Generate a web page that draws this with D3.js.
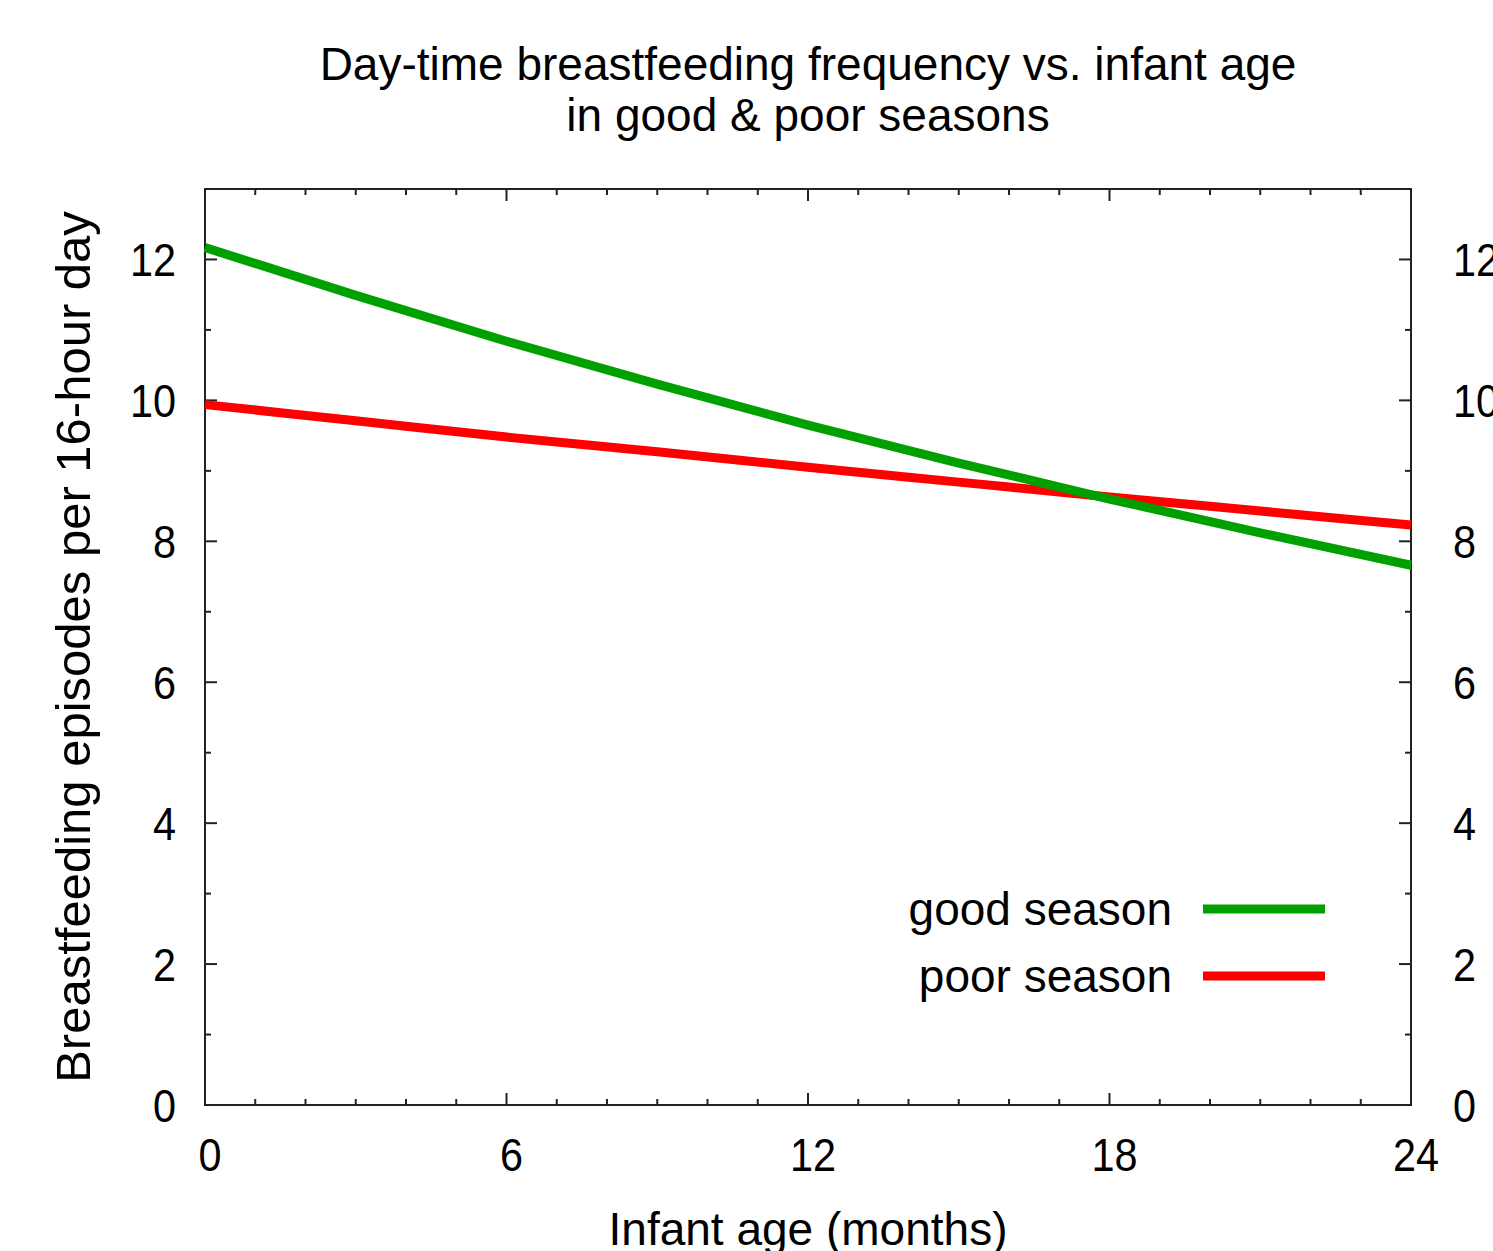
<!DOCTYPE html>
<html>
<head>
<meta charset="utf-8">
<script src="https://cdn.jsdelivr.net/npm/d3@7"></script>
<style>
  body { margin: 0; background: #fff; overflow: hidden; }
  text { font-family: "Liberation Sans", Arial, sans-serif; fill: #000; }
</style>
</head>
<body>
<div id="chart"></div>
<script>
// months and readings
const months = [0, 3, 6, 9, 12, 15, 18, 21, 24];
const goodSeason = [12.17, 11.49, 10.84, 10.23, 9.65, 9.11, 8.60, 8.12, 7.66];
const poorSeason = [9.94, 9.71, 9.48, 9.27, 9.05, 8.84, 8.63, 8.43, 8.23];
const seriesNames = ["good season", "poor season"];
const seriesColors = ["#00a000", "#ff0000"];
const xTicks = [0, 6, 12, 18, 24];
const yTicks = [0, 2, 4, 6, 8, 10, 12];

let width = 1493, height = 1251;
let margin = { left: 205, right: 82, top: 189, bottom: 146 };

let svg = d3.select("#chart").append("svg")
  .attr("width", width)
  .attr("height", height);

let x = d3.scaleLinear().domain([0, 24]).range([margin.left, width - margin.right]);
let y = d3.scaleLinear().domain([0, 13]).range([height - margin.bottom, margin.top]);

let fs = 46;

function label(g, str, tx, ty, anchor, size, squish)
{
  g.append("text")
    .attr("transform", "translate(" + tx + "," + ty + ") scale(" + (squish || 1) + ",1)")
    .attr("text-anchor", anchor)
    .style("font-size", (size || fs) + "px")
    .text(str);
}

// ticks, inward on all four sides
let ticks = svg.append("g").attr("stroke", "#222").attr("stroke-width", 2);
d3.range(0, 25, 1).forEach((m) => {
  let len = (m % 6 === 0) ? 12 : 6;
  ticks.append("line").attr("x1", x(m)).attr("x2", x(m)).attr("y1", y(0)).attr("y2", y(0) - len);
  ticks.append("line").attr("x1", x(m)).attr("x2", x(m)).attr("y1", y(13)).attr("y2", y(13) + len);
});
d3.range(0, 14, 1).forEach((v) => {
  let len = (v % 2 === 0) ? 12 : 6;
  ticks.append("line").attr("y1", y(v)).attr("y2", y(v)).attr("x1", x(0)).attr("x2", x(0) + len);
  ticks.append("line").attr("y1", y(v)).attr("y2", y(v)).attr("x1", x(24)).attr("x2", x(24) - len);
});

svg.append("rect")
  .attr("x", x(0)).attr("y", y(13))
  .attr("width", x(24) - x(0)).attr("height", y(0) - y(13))
  .attr("fill", "none").attr("stroke", "#222").attr("stroke-width", 2);

let labels = svg.append("g");
yTicks.forEach((v) => {
  label(labels, v, x(0) - 29, y(v) + 17, "end", fs, 0.9);
  label(labels, v, x(24) + 42, y(v) + 17, "start", fs, 0.9);
});
xTicks.forEach((m) => {
  label(labels, m, x(m) + 5, y(0) + 66, "middle", fs, 0.9);
});

// lines (poor first so good sits on top)
let line = d3.line().x((d) => x(d[0])).y((d) => y(d[1])).curve(d3.curveMonotoneX);
let series = [goodSeason, poorSeason];
[1, 0].forEach((i) => {
  svg.append("path")
    .datum(months.map((m, j) => [m, series[i][j]]))
    .attr("d", line)
    .attr("fill", "none")
    .attr("stroke", seriesColors[i])
    .attr("stroke-width", 9);
});

// legend
let legend = svg.append("g");
seriesNames.forEach((name, i) => {
  let ly = 909 + i * 67;
  label(legend, name, 1172, ly + 16, "end");
  legend.append("line")
    .attr("x1", 1203).attr("x2", 1325)
    .attr("y1", ly).attr("y2", ly)
    .attr("stroke", seriesColors[i]).attr("stroke-width", 9);
});

// titles
label(svg, "Day-time breastfeeding frequency vs. infant age", 808, 80, "middle");
label(svg, "in good & poor seasons", 808, 131, "middle");
label(svg, "Infant age (months)", 808, 1245, "middle");

svg.append("text")
  .attr("transform", "translate(90," + ((y(0) + y(13)) / 2) + ") rotate(-90)")
  .attr("text-anchor", "middle")
  .style("font-size", "49px")
  .text("Breastfeeding episodes per 16-hour day");
</script>
</body>
</html>
